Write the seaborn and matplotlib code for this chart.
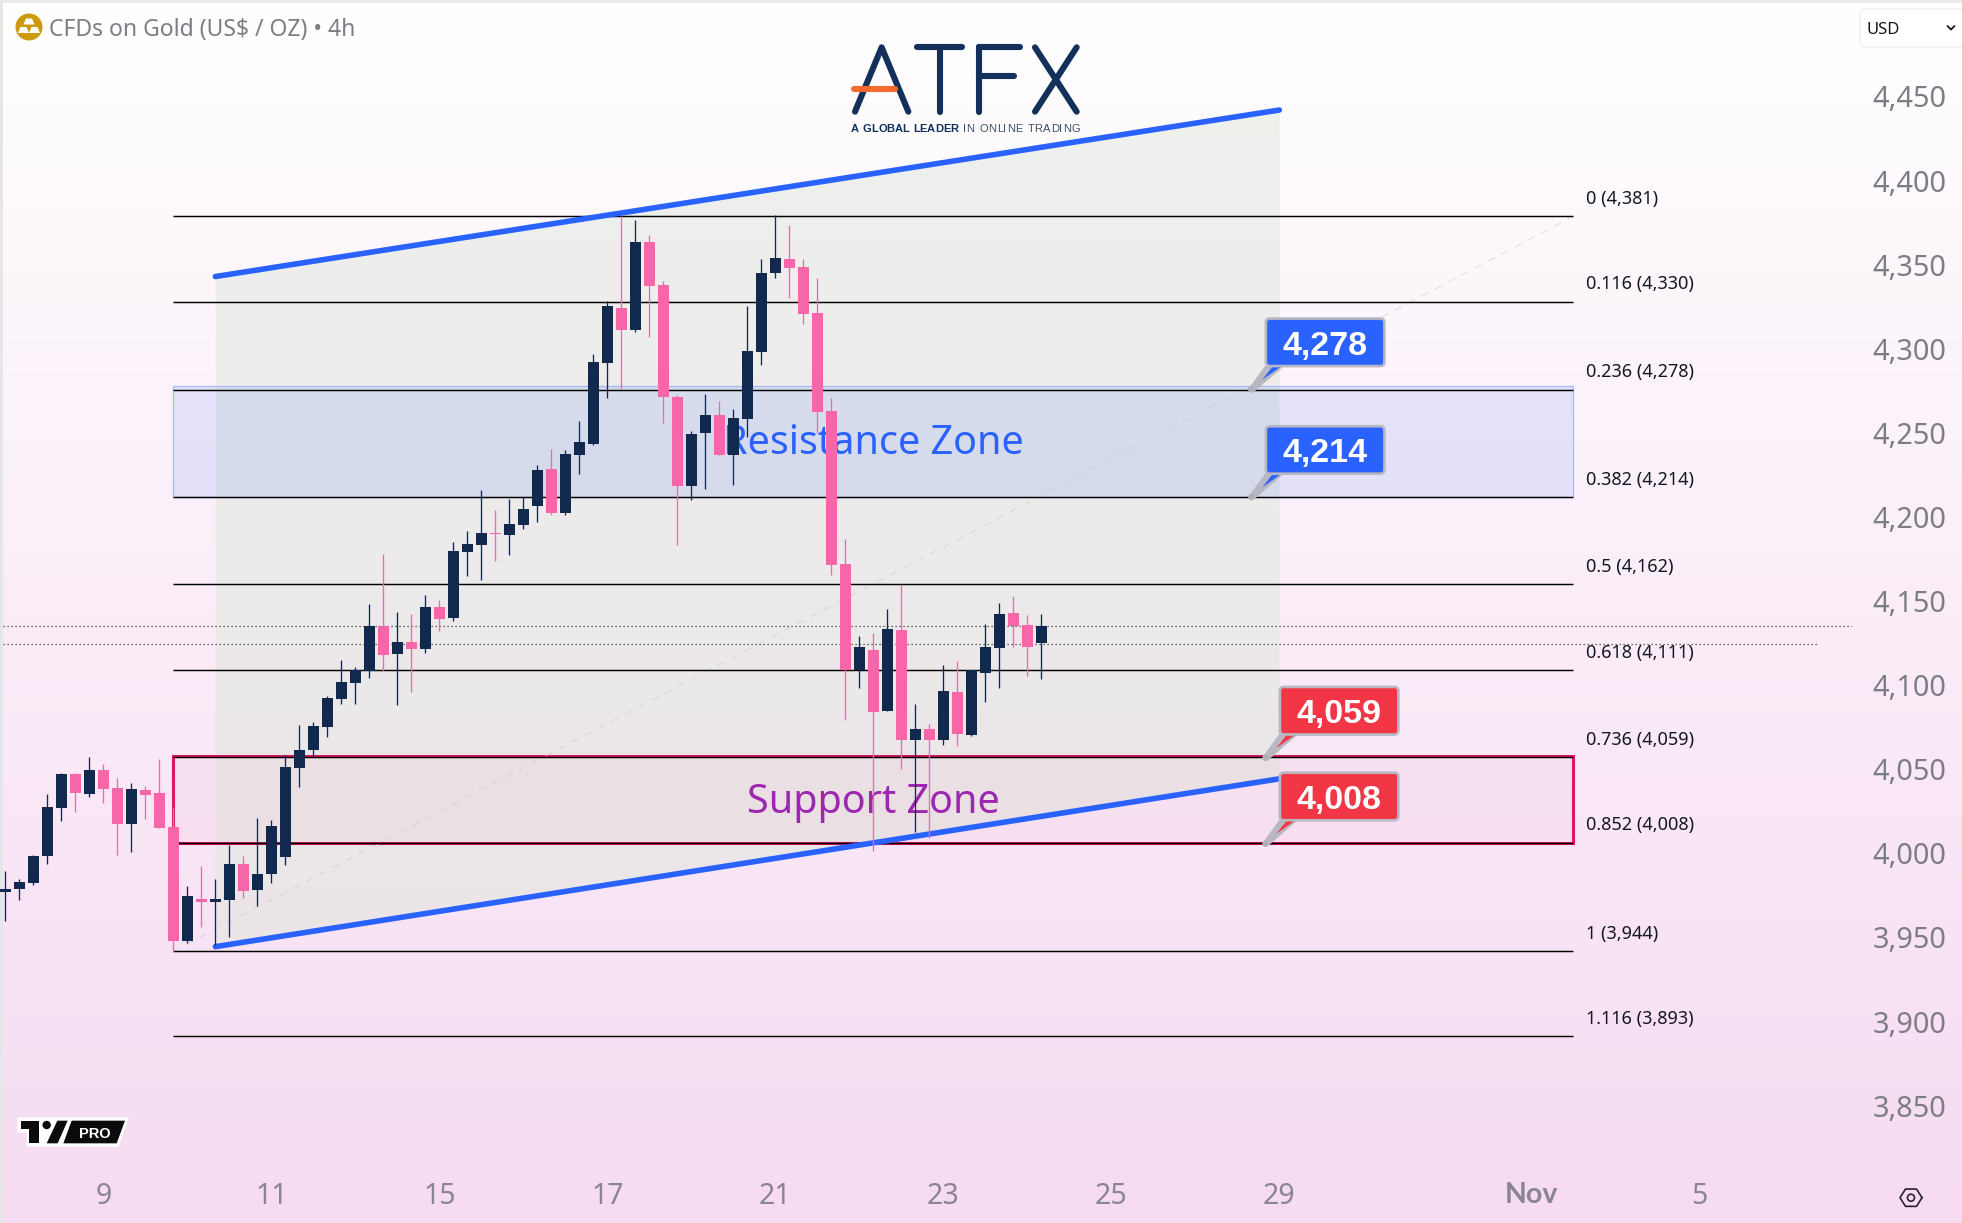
import numpy as np
import pandas as pd
import matplotlib
matplotlib.use('Agg')
import matplotlib.pyplot as plt
import seaborn as sns
from matplotlib.patches import Circle, FancyBboxPatch, Polygon, Rectangle
from matplotlib.transforms import Affine2D, ScaledTranslation

# 4h candles (USD per oz)
opens = [3979.4, 3981.0, 3984.6, 4000.6, 4029.2, 4049.4, 4037.5, 4051.8, 4041.1, 4019.6,
         4039.9, 4038.1, 4017.9, 3950.1, 3975.0, 3973.3, 3974.5, 3995.9, 3980.4, 3989.9,
         4000.0, 4052.9, 4063.6, 4077.3, 4094.0, 4103.5, 4110.6, 4137.4, 4120.7, 4127.9,
         4123.7, 4148.7, 4142.1, 4181.4, 4185.6, 4192.7, 4191.5, 4197.5, 4208.8, 4230.8,
         4204.6, 4239.1, 4245.6, 4293.8, 4326.5, 4313.4, 4365.7, 4340.2, 4273.6, 4220.6,
         4252.2, 4262.9, 4239.1, 4260.5, 4300.3, 4347.3, 4355.6, 4350.9, 4323.5, 4265.2,
         4174.3, 4111.2, 4123.1, 4086.8, 4135.0, 4069.6, 4076.1, 4069.6, 4098.1, 4072.6,
         4109.4, 4124.3, 4145.1, 4138.0, 4127.3]
highs = [3991.7, 3987.0, 4001.2, 4037.5, 4049.8, 4050.2, 4059.5, 4055.3, 4047.0, 4044.0,
         4042.2, 4058.3, 4029.8, 3982.8, 3994.7, 3987.0, 4007.2, 4000.6, 4023.2, 4022.0,
         4060.7, 4078.5, 4080.3, 4095.8, 4117.2, 4113.0, 4150.5, 4180.2, 4145.7, 4144.5,
         4155.8, 4152.8, 4187.3, 4193.9, 4218.3, 4206.4, 4212.9, 4214.1, 4233.1, 4242.7,
         4242.1, 4259.3, 4299.1, 4330.7, 4381.2, 4378.8, 4369.9, 4342.5, 4274.8, 4253.4,
         4275.4, 4271.2, 4266.4, 4327.7, 4355.6, 4381.8, 4375.8, 4355.6, 4344.3, 4273.0,
         4189.1, 4131.4, 4133.2, 4147.5, 4161.8, 4091.0, 4079.1, 4114.2, 4116.6, 4111.2,
         4138.6, 4151.1, 4155.2, 4143.9, 4144.5]
lows = [3962.2, 3974.5, 3983.4, 3995.9, 4021.4, 4026.8, 4035.7, 4032.1, 4001.2, 4003.0,
        4022.6, 4017.3, 3943.9, 3948.9, 3958.4, 3947.7, 3952.5, 3975.6, 3970.9, 3984.6,
        3995.3, 4041.6, 4060.1, 4071.4, 4091.0, 4091.0, 4106.5, 4110.6, 4090.4, 4098.1,
        4121.3, 4134.4, 4140.4, 4167.1, 4164.8, 4176.1, 4179.6, 4195.1, 4199.3, 4203.4,
        4203.4, 4227.8, 4244.8, 4273.0, 4278.3, 4312.2, 4309.2, 4258.1, 4185.6, 4212.3,
        4218.9, 4239.1, 4221.2, 4250.0, 4292.6, 4344.3, 4332.4, 4317.0, 4252.0, 4167.7,
        4081.5, 4100.5, 4003.6, 4086.8, 4052.4, 4014.9, 4011.3, 4066.6, 4066.0, 4072.0,
        4092.2, 4100.5, 4124.9, 4107.7, 4105.9]
closes = [3981.0, 3985.2, 4000.6, 4029.8, 4049.4, 4038.1, 4051.8, 4040.5, 4019.6, 4040.5,
          4036.9, 4017.3, 3950.1, 3976.8, 3973.3, 3975.0, 3995.9, 3979.8, 3989.9, 4018.5,
          4053.5, 4063.6, 4077.9, 4094.6, 4104.1, 4111.2, 4137.4, 4120.1, 4127.9, 4123.7,
          4148.7, 4141.5, 4182.0, 4186.2, 4192.7, 4192.1, 4198.1, 4207.0, 4230.2, 4204.6,
          4239.7, 4246.8, 4294.4, 4327.7, 4313.4, 4365.7, 4339.6, 4273.6, 4220.6, 4251.6,
          4262.9, 4239.1, 4261.1, 4300.9, 4347.3, 4356.2, 4350.3, 4322.9, 4264.7, 4173.7,
          4111.2, 4124.9, 4086.3, 4135.6, 4069.6, 4076.1, 4069.6, 4098.7, 4073.2, 4111.2,
          4124.9, 4144.5, 4137.4, 4124.9, 4137.4]

fib_ratios = ['0', '0.116', '0.236', '0.382', '0.5', '0.618', '0.736', '0.852', '1', '1.116']
fib_labels = ['4,381', '4,330', '4,278', '4,214', '4,162', '4,111', '4,059', '4,008', '3,944', '3,893']
fib_prices = [4381.0, 4330.3, 4277.9, 4214.1, 4162.5, 4111.0, 4059.4, 4008.7, 3944.0, 3893.6]
fib_start, fib_end = 12, 112

channel_x = [15, 91]
channel_upper = [4345.2, 4444.2]
channel_lower = [3946.8, 4046.6]

resistance_zone = (4214.1, 4280.0)
support_zone = (4008.7, 4060.1)
last_prices = [4137.4, 4126.5]

callout_x = [89, 89, 90, 90]
callout_prices = [4278, 4214, 4059, 4008]
callout_texts = ['4,278', '4,214', '4,059', '4,008']
callout_colors = ['#2962ff', '#2962ff', '#f23645', '#f23645']

y_ticks = list(range(3850, 4451, 50))
x_ticks = [7, 19, 31, 43, 55, 67, 79, 91, 109, 121]
x_tick_labels = ['9', '11', '15', '17', '21', '23', '25', '29', 'Nov', '5']

NAVY = '#12294f'
PINK = '#f766a9'
GREY_TEXT = '#7d7d85'
W, H = 1962, 1223
PT = 0.72  # points per pixel at dpi 100

sns.set_theme(style='white')
plt.rcParams['font.family'] = ['Noto Sans', 'DejaVu Sans']

candles = pd.DataFrame({'bar': np.arange(len(opens)), 'open': opens, 'high': highs,
                        'low': lows, 'close': closes})
candles['body'] = (candles['close'] - candles['open']).abs()
candles['bottom'] = candles[['open', 'close']].min(axis=1)
candles['up'] = candles['close'] >= candles['open']

fig = plt.figure(figsize=(W / 100, H / 100), dpi=100)

# background gradient and window edges
bg = fig.add_axes([0, 0, 1, 1], zorder=0)
top_rgb = np.array([255, 255, 255]) / 255
bottom_rgb = np.array([246, 219, 241]) / 255
grad = np.linspace(0, 1, 256)[:, None, None] * (bottom_rgb - top_rgb) + top_rgb
bg.imshow(grad, extent=(0, W, H, 0), aspect='auto')
bg.add_patch(Rectangle((0, 0), W, 3, color='#eaeaec', lw=0))
bg.add_patch(Rectangle((0, 0), 3, H, color='#e6e6e8', lw=0))
bg.set_xlim(0, W)
bg.set_ylim(H, 0)
bg.axis('off')

# price chart, the limits put candle i at 5.33 + 14 i pixels
plot_w, plot_h = 1852, 1165
ax = fig.add_axes([0, 1 - plot_h / H, plot_w / W, plot_h / H], zorder=1)
ax.patch.set_visible(False)

ax.fill_between(channel_x, channel_lower, channel_upper, color='#dfe7dd', alpha=0.5, lw=0, zorder=1)
ax.add_patch(Rectangle((fib_start, resistance_zone[0]), fib_end - fib_start,
                       resistance_zone[1] - resistance_zone[0], fc=(0.16, 0.38, 1, 0.11),
                       ec='#a3bcf2', lw=0.9, zorder=1.5))
ax.add_patch(Rectangle((fib_start, support_zone[0]), fib_end - fib_start,
                       support_zone[1] - support_zone[0], fc=(0.85, 0.1, 0.38, 0.03),
                       ec='#d81b60', lw=2.2, zorder=1.5))

ax.plot([fib_start, fib_end], [fib_prices[-2], fib_prices[0]], color='#c9c9cf', lw=0.9,
        ls=(0, (6, 6)), alpha=0.5, zorder=1.8)
ax.hlines(fib_prices, fib_start, fib_end, color='black', lw=1.05, zorder=2)
ax.hlines(last_prices[0], -0.2, 131.9, color='#38383e', lw=0.9, ls=(0, (1, 2.2)), zorder=2)
ax.hlines(last_prices[1], -0.2, 129.4, color='#38383e', lw=0.9, ls=(0, (1, 2.2)), zorder=2)

for band in [channel_upper, channel_lower]:
    sns.lineplot(x=channel_x, y=band, color='#2962ff', lw=4.0, ax=ax, zorder=3,
                 solid_capstyle='round', errorbar=None)

ax.text(62, 4245.7, 'Resistance Zone', color='#2962ff', fontsize=28.5, ha='center',
        va='center', zorder=3.5)
ax.text(62, 4032.5, 'Support Zone', color='#9c27b0', fontsize=28.5, ha='center', va='center', zorder=3.5)

wick_colors = [NAVY if u else PINK for u in candles['up']]
ax.vlines(candles['bar'], candles['low'], candles['high'], colors=wick_colors, lw=0.95, zorder=4)
for is_up, color in [(True, NAVY), (False, PINK)]:
    part = candles[candles['up'] == is_up]
    sns.barplot(data=part, x='bar', y='body', bottom=part['bottom'].to_numpy(), native_scale=True,
                color=color, saturation=1, width=0.79, errorbar=None, orient='x', ax=ax,
                linewidth=0, zorder=5)

for ratio, label, price in zip(fib_ratios, fib_labels, fib_prices):
    ax.annotate(f'{ratio} ({label})', xy=(fib_end, price), xytext=(12.5 * PT, 17.3 * PT),
                textcoords='offset points', fontsize=13, color='#131722', va='center')

ax.set_xlim(-0.381, 131.9)
ax.set_ylim(3817.0, 4509.6)
ax.set_xlabel('')
ax.set_ylabel('')
ax.set_xticks(x_ticks, x_tick_labels)
ax.set_yticks(y_ticks, [f'{v:,}' for v in y_ticks])
ax.yaxis.tick_right()
ax.tick_params(axis='x', length=0, pad=12.5, labelsize=20.5, labelcolor='#8a8592')
ax.tick_params(axis='y', length=0, pad=15, labelsize=20.8, labelcolor=GREY_TEXT)
shift = ScaledTranslation(0, 3.8 / 100, fig.dpi_scale_trans)
for lab in ax.get_yticklabels():
    lab.set_transform(lab.get_transform() + shift)
for lab in ax.get_xticklabels():
    if lab.get_text() == 'Nov':
        lab.set_fontfamily(['Lato', 'DejaVu Sans'])
        lab.set_fontweight('bold')
sns.despine(ax=ax, left=True, right=True, top=True, bottom=True)


def add_callout(x, price, text, color):
    """Price bubble with a pointer, sized in pixels around its anchor."""
    base = Affine2D().translate(*ax.transData.transform((x, price)))
    grey = '#b7b8c2'
    ax.add_patch(Polygon([(-2, 2), (14, 24), (33, 24), (3, -2)], fc=grey, ec='none',
                         transform=base, zorder=6))
    ax.add_patch(Polygon([(11, 10), (22, 24), (31, 24)], fc=color, ec='none',
                         transform=base, zorder=6.1))
    ax.add_patch(Circle((0, 0), 3.2, fc='#b0b0b8', ec='none', transform=base, zorder=6.1))
    ax.add_patch(FancyBboxPatch((14.5, 23.5), 118.5, 47.5, boxstyle='round,pad=0,rounding_size=4',
                                fc=color, ec=grey, lw=1.9, transform=base, zorder=6.2))
    ax.annotate(text, xy=(x, price), xytext=(73.5 * PT, 47 * PT), textcoords='offset points',
                color='white', fontsize=24.5, fontweight='bold', family=['Liberation Sans'],
                ha='center', va='center_baseline', zorder=6.3)


for cx, cp, ct, cc in zip(callout_x, callout_prices, callout_texts, callout_colors):
    add_callout(cx, cp, ct, cc)

# header, logos and small window controls, in pixel coordinates
ui = fig.add_axes([0, 0, 1, 1], zorder=2)
ui.set_xlim(0, W)
ui.set_ylim(H, 0)
ui.axis('off')

ui.add_patch(Circle((29, 27), 13.5, fc='#cc9a0a', ec='none'))
for bx, by in [(29, 21.5), (23.5, 30), (34.5, 30)]:
    ui.add_patch(Polygon([(bx - 3, by - 3), (bx + 3, by - 3), (bx + 5.5, by + 3), (bx - 5.5, by + 3)],
                         fc='white', ec='none'))
ui.text(49, 30, 'CFDs on Gold (US$ / OZ) • 4h', fontsize=16.5, color=GREY_TEXT, va='center')


def spaced_text(x0, x1, y, text, **kwargs):
    """Write text letter by letter so that it runs from x0 to x1 in pixels."""
    renderer = fig.canvas.get_renderer()
    widths = []
    for ch in text:
        probe = ui.text(0, 0, ch if ch != ' ' else 'n', **kwargs)
        w = probe.get_window_extent(renderer).width
        probe.remove()
        widths.append(w if ch != ' ' else w * 0.6)
    gap = (x1 - x0 - sum(widths)) / (len(text) - 1)
    pos = x0
    for ch, w in zip(text, widths):
        if ch != ' ':
            ui.text(pos, y, ch, va='center_baseline', **kwargs)
        pos += w + gap


lx = lambda z: 820 + z / 3
ly = lambda z: 20 + z / 3
logo_strokes = [([105, 185, 265], [275, 82, 275]), ([292, 425], [82, 82]), ([360, 360], [82, 275]),
                ([478, 478], [82, 275]), ([478, 600], [82, 82]), ([478, 583], [167, 167]),
                ([645, 770], [82, 275]), ([770, 645], [82, 275])]
for xs, ys in logo_strokes:
    ui.plot([lx(v) for v in xs], [ly(v) for v in ys], color='#12305a', lw=4.4,
            solid_capstyle='round', solid_joinstyle='round')
ui.plot([lx(102), lx(225)], [ly(207), ly(207)], color='#f26a2e', lw=4.4, solid_capstyle='round')
spaced_text(851, 958, 128, 'A GLOBAL LEADER', fontsize=8, fontweight='bold', color='#12305a',
            family=['Liberation Sans'])
spaced_text(963, 1080, 128, 'IN ONLINE TRADING', fontsize=8, color='#3d4f6b',
            family=['Liberation Sans'])

tx = lambda z: z / 3
ty = lambda z: 1090 + z / 3
pts = lambda seq: [(tx(a), ty(b)) for a, b in seq]
ui.add_patch(Polygon(pts([(52, 82), (387, 82), (356, 170), (80, 170), (80, 128), (52, 128)]),
                     fc='white', ec='none'))
ui.add_patch(Polygon(pts([(62, 92), (118, 92), (118, 160), (88, 160), (88, 118), (62, 118)]),
                     fc='#0b0b0e', ec='none'))
ui.add_patch(Circle((tx(140), ty(105)), 4.2, fc='#0b0b0e', ec='none'))
ui.add_patch(Polygon(pts([(172, 92), (203, 92), (173, 160), (140, 160)]), fc='#0b0b0e', ec='none'))
ui.add_patch(Polygon(pts([(215, 92), (375, 92), (350, 160), (190, 160)]), fc='#0b0b0e', ec='none'))
ui.text(tx(283), ty(126), 'PRO', color='white', fontsize=10.5, fontweight='bold',
        family=['Liberation Sans'], ha='center', va='center_baseline')

ui.add_patch(FancyBboxPatch((1860, 9), 110, 38, boxstyle='round,pad=0,rounding_size=5',
                            fc='white', ec='#ececef', lw=0.8))
ui.text(1866, 27.5, 'USD', fontsize=12, color='#131722', va='center_baseline')
ui.plot([1947.5, 1951, 1954.5], [26, 29.5, 26], color='#131722', lw=1.3)

hex_a = np.deg2rad(np.arange(0, 361, 60))
ui.plot(1911 + 11 * np.cos(hex_a), 1197.7 + 10 * np.sin(hex_a), color='#2a2035', lw=1.2)
ui.add_patch(Circle((1911, 1197.7), 3.5, fc='none', ec='#2a2035', lw=1.2))

fig.savefig('out.png', dpi=100)
